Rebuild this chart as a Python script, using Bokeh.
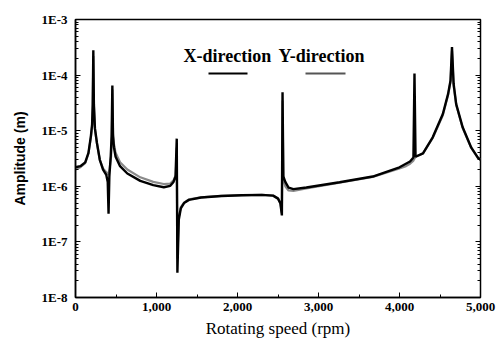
from bokeh.plotting import figure
from bokeh.models import (LogAxis, Label, BoxAnnotation, FixedTicker, LogTicker,
                          NumeralTickFormatter, CustomJSTickFormatter)
from bokeh.embed import file_html
from bokeh.resources import INLINE

# ---- data ----
x_rpm = [0, 60, 120, 160, 190, 205, 213, 220, 227, 240, 265, 300, 340, 380, 398, 408,
         418, 435, 446, 455, 463, 475, 495, 550, 640, 800, 960, 1090, 1170, 1210, 1235,
         1250, 1258, 1275, 1300, 1340, 1400, 1550, 1800, 2050, 2300, 2440, 2500, 2530,
         2548, 2556, 2566, 2590, 2630, 2690, 2850, 3260, 3670, 4000, 4130, 4172, 4185,
         4198, 4290, 4410, 4535, 4600, 4630, 4648, 4668, 4700, 4780, 4885, 4965, 5000]
x_amp = [2.2e-6, 2.3e-6, 2.7e-6, 4.0e-6, 8.0e-6, 1.3e-5, 3.0e-5, 2.8e-4, 3.0e-5, 1.1e-5,
         6.0e-6, 3.0e-6, 2.0e-6, 1.6e-6, 1.2e-6, 3.2e-7, 1.5e-6, 3.5e-6, 8.0e-6, 6.5e-5,
         8.0e-6, 5.0e-6, 3.4e-6, 2.3e-6, 1.7e-6, 1.25e-6, 1.05e-6, 9.6e-7, 1.02e-6, 1.2e-6,
         1.5e-6, 7.2e-6, 2.8e-8, 2.5e-7, 4.0e-7, 5.0e-7, 5.7e-7, 6.3e-7, 6.7e-7, 6.9e-7,
         7.0e-7, 6.8e-7, 6.0e-7, 4.9e-7, 3.0e-7, 4.9e-5, 1.5e-6, 1.2e-6, 9.5e-7, 8.9e-7,
         9.5e-7, 1.18e-6, 1.5e-6, 2.2e-6, 2.8e-6, 3.3e-6, 1.07e-4, 3.4e-6, 3.9e-6, 7.6e-6,
         2.0e-5, 4.6e-5, 8.0e-5, 3.2e-4, 7.0e-5, 3.0e-5, 1.15e-5, 5.0e-6, 3.3e-6, 3.0e-6]

y_rpm = [0, 60, 120, 160, 190, 205, 213, 220, 227, 240, 265, 300, 340, 380, 400, 420,
         440, 450, 456, 463, 475, 495, 550, 640, 800, 960, 1090, 1170, 1210, 1238, 1250,
         1258, 1275, 1300, 1340, 1400, 1550, 1800, 2050, 2300, 2440, 2500, 2530, 2548,
         2556, 2566, 2590, 2630, 2690, 2850, 3260, 3670, 4000, 4080, 4130, 4172, 4198,
         4290, 4410, 4535, 4600, 4630, 4648, 4668, 4700, 4780, 4885, 4965, 5000]
y_amp = [2.0e-6, 2.2e-6, 2.6e-6, 3.9e-6, 7.5e-6, 1.2e-5, 2.8e-5, 2.2e-4, 2.8e-5, 1.05e-5,
         5.8e-6, 3.0e-6, 2.1e-6, 1.8e-6, 1.6e-6, 2.0e-6, 3.5e-6, 9.0e-6, 5.5e-5, 9.0e-6,
         5.8e-6, 4.0e-6, 2.7e-6, 2.0e-6, 1.45e-6, 1.2e-6, 1.1e-6, 1.12e-6, 1.28e-6, 1.6e-6,
         5.0e-6, 5.0e-8, 2.8e-7, 4.2e-7, 5.1e-7, 5.8e-7, 6.3e-7, 6.7e-7, 6.9e-7, 7.0e-7,
         6.8e-7, 6.1e-7, 5.0e-7, 3.3e-7, 3.5e-5, 1.3e-6, 1.0e-6, 8.4e-7, 8.3e-7, 9.2e-7,
         1.16e-6, 1.48e-6, 2.1e-6, 2.3e-6, 2.55e-6, 2.9e-6, 3.4e-6, 3.9e-6, 7.4e-6,
         1.9e-5, 4.4e-5, 7.5e-5, 2.7e-4, 6.5e-5, 2.9e-5, 1.12e-5, 4.9e-6, 3.3e-6, 3.0e-6]

series_names = ["X-direction", "Y-direction"]
x_ticks = [0, 1000, 2000, 3000, 4000, 5000]
x_minor = [500, 1500, 2500, 3500, 4500]
x_title = "Rotating speed (rpm)"
y_title = "Amplitude (m)"

SERIF = "Liberation Serif"

p = figure(width=499, height=349, y_axis_type="log",
           x_range=(0, 5000), y_range=(1e-8, 1e-3),
           output_backend="svg", toolbar_location=None,
           min_border_left=75, min_border_right=19,
           min_border_top=19, min_border_bottom=52)
p.background_fill_color = "white"
p.border_fill_color = "white"
p.grid.visible = False
p.outline_line_color = "black"
p.outline_line_width = 1.5

p.line(y_rpm, y_amp, line_color="#8a8a8a", line_width=2.2)
p.line(x_rpm, x_amp, line_color="black", line_width=2.4)

# axes
p.xaxis.ticker = FixedTicker(ticks=x_ticks, minor_ticks=x_minor)
p.xaxis.formatter = NumeralTickFormatter(format="0,0")
p.yaxis.ticker = LogTicker(num_minor_ticks=10)
p.yaxis.formatter = CustomJSTickFormatter(code="return '1E' + Math.round(Math.log10(tick));")

for ax in (p.xaxis, p.yaxis):
    ax.axis_line_width = 1.5
    ax.axis_line_color = "black"
    ax.major_tick_in = 5
    ax.major_tick_out = 0
    ax.minor_tick_in = 3
    ax.minor_tick_out = 0
    ax.major_tick_line_color = "black"
    ax.minor_tick_line_color = "black"
    ax.major_label_text_font = SERIF
    ax.major_label_text_font_style = "bold"
    ax.major_label_text_font_size = "13px"
    ax.major_label_text_color = "black"

p.xaxis.axis_label = x_title
p.xaxis.axis_label_text_font = SERIF
p.xaxis.axis_label_text_font_style = "normal"
p.xaxis.axis_label_text_font_size = "17px"
p.xaxis.axis_label_text_color = "black"
p.xaxis.major_label_standoff = 5
p.xaxis.axis_label_standoff = 5

p.yaxis.axis_label = y_title
p.yaxis.axis_label_text_font = "Liberation Sans"
p.yaxis.axis_label_text_font_style = "bold"
p.yaxis.axis_label_text_font_size = "14px"
p.yaxis.axis_label_text_color = "black"
p.yaxis.major_label_standoff = 8
p.yaxis.axis_label_standoff = 11

right = LogAxis(ticker=LogTicker(num_minor_ticks=10),
                formatter=CustomJSTickFormatter(code="return '';"),
                axis_line_color=None, major_tick_in=5, major_tick_out=0,
                minor_tick_in=3, minor_tick_out=0)
p.add_layout(right, "right")

# legend (text above a short key line)
p.add_layout(Label(x=108, y=242, x_units="screen", y_units="screen", text=series_names[0],
                   text_font=SERIF, text_font_style="bold", text_font_size="18px",
                   text_color="black", text_baseline="alphabetic"))
p.add_layout(Label(x=203, y=242, x_units="screen", y_units="screen", text=series_names[1],
                   text_font=SERIF, text_font_style="bold", text_font_size="18px",
                   text_color="black", text_baseline="alphabetic"))
p.add_layout(BoxAnnotation(left=133, right=172, bottom=223, top=225,
                           left_units="screen", right_units="screen",
                           bottom_units="screen", top_units="screen",
                           fill_color="black", fill_alpha=1, line_color=None))
p.add_layout(BoxAnnotation(left=230, right=270, bottom=223, top=225,
                           left_units="screen", right_units="screen",
                           bottom_units="screen", top_units="screen",
                           fill_color="#555555", fill_alpha=1, line_color=None))

open("out.html", "w").write(file_html(p, INLINE))
